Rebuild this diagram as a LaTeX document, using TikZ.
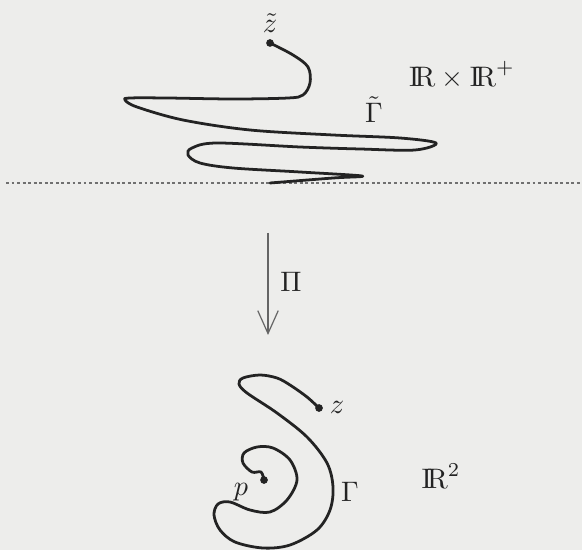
\documentclass[tikz,border=0pt]{standalone}
\usepackage{amsmath}
\usetikzlibrary{arrows.meta}
\definecolor{paper}{RGB}{237,237,235}
\definecolor{ink}{RGB}{35,35,35}
\newcommand{\IRr}{\mathrm{I\!R}}
\tikzset{
  curve/.style={ink, line width=1.15pt, line cap=round, line join=round},
  dotmark/.style={circle, fill=ink, inner sep=0pt, minimum size=3.2pt},
  lbl/.style={inner sep=0pt, text=ink, scale=1.17},
  sepline/.style={ink!65, line width=0.5pt, dash pattern=on 1.2pt off 1.1pt},
  proj/.style={ink!70, line width=0.5pt, -{Straight Barb[length=9.5pt,width=8.5pt]}}
}
\begin{document}
\begin{tikzpicture}[x=0.415pt,y=-0.415pt]
\fill[paper] (0,0) rectangle (582,550);
\useasboundingbox (0,0) rectangle (582,550);

% separator
\coordinate (sepL) at (6,183);
\coordinate (sepR) at (582,183);
\draw[sepline] (sepL) -- (sepR);

% upper curve
\node[dotmark] (zt) at (270,43) {};
\coordinate (zend) at (270,183);
\draw[curve] plot[smooth, tension=0.55] coordinates {
 (zt.center) (293,55) (308,67) (310,83) (303,95) (288,98) (233,99) (167,98)
 (130,98) (125,100) (137,107) (183,120) (250,130) (333,135) (400,138)
 (436,143) (415,150) (360,149) (300,147) (217,143) (192,148) (188,155)
 (200,163) (233,168) (300,172) (362,176) (333,178) (zend)};

\node[lbl] (ztl) at (270,23) {$\tilde z$};
\node[lbl] (Gtl) at (374,110) {$\tilde\Gamma$};
\node[lbl] (RR) at (462,75) {$\IRr\times\IRr^+$};

% projection arrow
\coordinate (atop) at (268,233);
\coordinate (abot) at (268,335);
\draw[proj] (atop) -- (abot);
\node[lbl] (Pil) at (291,282) {$\Pi$};

% lower curve
\node[dotmark] (zd) at (319,408) {};
\node[dotmark] (pd) at (264,480) {};
\draw[curve] plot[smooth, tension=0.55] coordinates {
 (zd.center) (307,397) (290,385) (277,378) (260,375) (243,378) (239,384)
 (247,393) (277,413) (307,437) (327,463) (333,487) (330,510) (317,530)
 (290,545) (263,548) (235,542) (220,530) (214,515) (218,504) (230,502)
 (250,510) (270,512) (287,500) (297,480) (290,460) (273,448) (257,447)
 (244,453) (243,463) (252,472) (261,472) (pd.center)};

\node[lbl] (zl) at (337,407) {$z$};
\node[lbl] (pl) at (241,492) {$p$};
\node[lbl] (Gl) at (350,492) {$\Gamma$};
\node[lbl] (R2) at (441,476) {$\IRr^2$};
\end{tikzpicture}
\end{document}
